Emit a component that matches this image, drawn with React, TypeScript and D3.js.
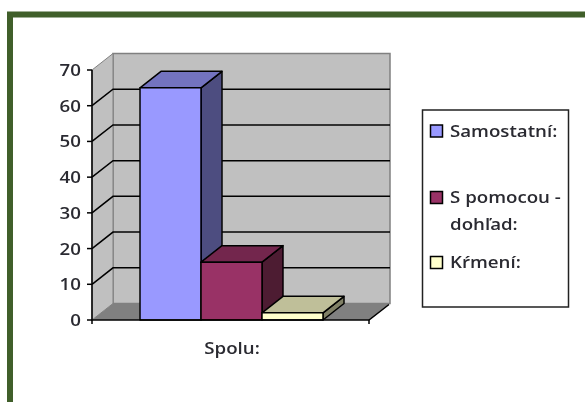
import React from "react";
import * as d3 from "d3";

const seriesNames = ["Samostatní:", "S pomocou -|dohľad:", "Kŕmení:"];
const seriesValues = [65, 16.2, 2];
const frontColors = ["#9999ff", "#993366", "#ffffcc"];
const topColors = ["#7373bf", "#73264d", "#bfbf99"];
const sideColors = ["#4d4d80", "#4d1a33", "#808066"];
const ticks = [0, 10, 20, 30, 40, 50, 60, 70];
const category = "Spolu:";

const y = d3.scaleLinear().domain([0, 70]).range([320, 70]);
const x = d3.scaleBand<number>().domain([0, 1, 2]).range([140, 323]).padding(0);
const DX = 21, DY = -16.5;
const X0 = 92, X1 = 369;
const font = "'Open Sans', sans-serif";
const STRETCH = 1.12;
const poly = (p: number[][]) => p.map((q) => q.join(",")).join(" ");

function T({ x, y, children, anchor = "start" }: any) {
  return (
    <text transform={`translate(${x},${y}) scale(${STRETCH},1)`} textAnchor={anchor} fontFamily={font} fontSize={16.7} fontWeight={600} fill="#2a2a30">
      {children}
    </text>
  );
}

export default function App() {
  return (
    <svg width={585} height={402} style={{ position: "absolute", left: 0, top: 0, background: "#fff" }}>
      <defs>
        <filter id="soft" filterUnits="userSpaceOnUse" x="0" y="0" width="585" height="402">
          <feGaussianBlur stdDeviation="0.45" />
        </filter>
      </defs>
      <g filter="url(#soft)">
        <path d="M10 410V14.5H590" fill="none" stroke="#3f5f2a" strokeWidth={6} />
        {/* walls */}
        <polygon points={poly([[X0 + DX, y(70) + DY], [X1 + DX, y(70) + DY], [X1 + DX, y(0) + DY], [X0 + DX, y(0) + DY]])} fill="#c0c0c0" stroke="#808080" strokeWidth={1.5} />
        <polygon points={poly([[X0, y(70)], [X0 + DX, y(70) + DY], [X0 + DX, y(0) + DY], [X0, y(0)]])} fill="#c0c0c0" stroke="#808080" strokeWidth={1} />
        <polygon points={poly([[X0, y(0)], [X0 + DX, y(0) + DY], [X1 + DX, y(0) + DY], [X1, y(0)]])} fill="#808080" />
        {/* gridlines */}
        {ticks.filter((t) => t > 0 && t < 70).map((t) => (
          <polyline key={t} points={poly([[X0, y(t)], [X0 + DX, y(t) + DY], [X1 + DX, y(t) + DY]])} fill="none" stroke="#000" strokeWidth={1.5} />
        ))}
        {/* bars */}
        {seriesValues.map((v, i) => {
          const l = x(i)!, r = l + x.bandwidth(), t = y(v), b = y(0);
          return (
            <g key={i} stroke="#000" strokeWidth={1.5} strokeLinejoin="round">
              <polygon points={poly([[r, t], [r + DX, t + DY], [r + DX, b + DY], [r, b]])} fill={sideColors[i]} />
              <polygon points={poly([[l, t], [l + DX, t + DY], [r + DX, t + DY], [r, t]])} fill={topColors[i]} />
              <rect x={l} y={t} width={x.bandwidth()} height={b - t} fill={frontColors[i]} />
            </g>
          );
        })}
        {/* axes */}
        <path d={`M${X0} ${y(70)}V${y(0)}H${X1}l${DX - 1} ${DY + 1}`} fill="none" stroke="#000" strokeWidth={1.5} />
        <path d={`M${X0} ${y(0)}v4M${X1} ${y(0)}v4`} stroke="#000" strokeWidth={1.5} />
        {ticks.map((t) => (
          <g key={t}>
            <line x1={X0 - 5} x2={X0} y1={y(t)} y2={y(t)} stroke="#000" strokeWidth={1.5} />
            <T x={81} y={y(t) + 6} anchor="end">{t}</T>
          </g>
        ))}
        <T x={232} y={354} anchor="middle">{category}</T>
        {/* legend */}
        <rect x={422.5} y={110} width={146} height={197} fill="#fff" stroke="#222" strokeWidth={1.5} />
        {seriesNames.map((n, i) => {
          const yy = [130.5, 197, 262][i];
          return (
            <g key={i}>
              <rect x={430.5} y={yy - 5.5} width={12} height={12} fill={frontColors[i]} stroke="#000" strokeWidth={1.5} />
              {n.split("|").map((s, j) => (
                <T key={j} x={450} y={yy + 6 + j * 27}>{s}</T>
              ))}
            </g>
          );
        })}
      </g>
    </svg>
  );
}
